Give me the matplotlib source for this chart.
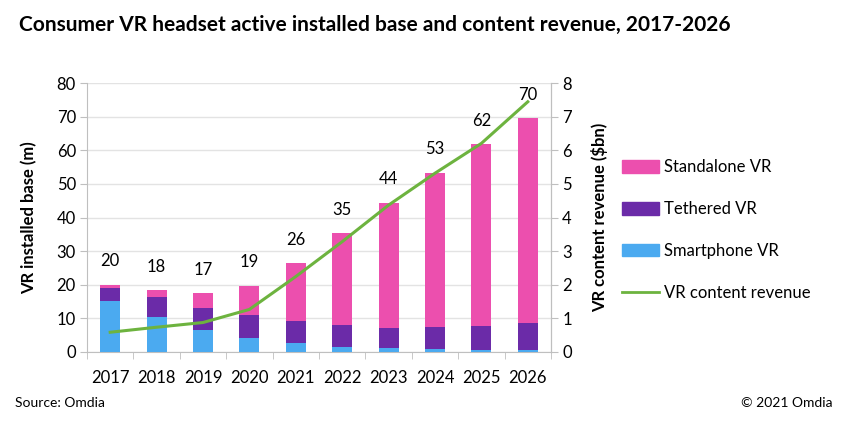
import matplotlib.pyplot as plt
import numpy as np
from matplotlib.patches import Patch
from matplotlib.lines import Line2D

plt.rcParams['font.family'] = ['Lato', 'DejaVu Sans']

# data
years = ['2017', '2018', '2019', '2020', '2021', '2022', '2023', '2024', '2025', '2026']
smartphone = [15.1, 10.4, 6.5, 4.0, 2.5, 1.5, 1.0, 0.7, 0.6, 0.4]
tethered = [4.0, 5.9, 6.5, 6.9, 6.6, 6.5, 6.2, 6.8, 7.1, 8.1]
standalone = [0.8, 2.0, 4.4, 8.7, 17.2, 27.3, 37.2, 45.9, 54.1, 61.1]
totals = [20, 18, 17, 19, 26, 35, 44, 53, 62, 70]
revenue = [0.58, 0.73, 0.87, 1.26, 2.24, 3.28, 4.37, 5.32, 6.21, 7.45]

c_blue = '#4BAAF0'
c_purple = '#6B2BA8'
c_pink = '#EC4FAE'
c_green = '#6DB33F'
grey = '#BFBFBF'

fig = plt.figure(figsize=(8.43, 4.24), dpi=100)
ax = fig.add_axes([0.1032, 0.1705, 0.5504, 0.633])

x = np.arange(len(years))
w = 0.43
ax.bar(x, smartphone, w, color=c_blue, zorder=3)
ax.bar(x, tethered, w, bottom=smartphone, color=c_purple, zorder=3)
bottom2 = np.array(smartphone) + np.array(tethered)
ax.bar(x, standalone, w, bottom=bottom2, color=c_pink, zorder=3)

# total labels above the bars
tops = bottom2 + np.array(standalone)
for xi, top, t in zip(x, tops, totals):
    ax.annotate(str(t), (xi, top), xytext=(0, 17), textcoords='offset points',
                ha='center', va='center', fontsize=12, color='black')

ax.set_xlim(-0.5, len(years) - 0.5)
ax.set_ylim(0, 80)
ax.set_yticks(range(0, 81, 10))
ax.grid(axis='y', color='#E3E3E3', linewidth=1, zorder=0)
ax.set_xticks(x)
ax.set_xticklabels(years, fontsize=12)
ax.set_xticks(np.arange(-0.5, len(years), 1), minor=True)
ax.tick_params(axis='x', which='major', length=0, pad=13)
ax.tick_params(axis='x', which='minor', length=5, color=grey)
ax.tick_params(axis='y', labelsize=12, length=5, color=grey, pad=3)
ax.spines['top'].set_visible(False)
for s in ['left', 'bottom', 'right']:
    ax.spines[s].set_color(grey)
ax.set_ylabel('VR installed base (m)', fontsize=12, fontweight='bold', labelpad=14)

ax2 = ax.twinx()
ax2.plot(x, revenue, color=c_green, linewidth=2.2, zorder=4)
ax2.set_ylim(0, 8)
ax2.set_yticks(range(0, 9))
ax2.tick_params(axis='y', labelsize=12, length=5, color=grey, pad=3)
for s in ['top', 'left', 'bottom']:
    ax2.spines[s].set_visible(False)
ax2.spines['right'].set_color(grey)
ax2.set_ylabel('VR content revenue ($bn)', fontsize=12, fontweight='bold', labelpad=14)

handles = [Patch(color=c_pink), Patch(color=c_purple), Patch(color=c_blue),
           Line2D([0], [0], color=c_green, linewidth=2)]
labels = ['Standalone VR', 'Tethered VR', 'Smartphone VR', 'VR content revenue']
fig.legend(handles, labels, loc='upper left', bbox_to_anchor=(0.72, 0.66),
           frameon=False, fontsize=12, labelspacing=1.55, handlelength=2.2,
           handleheight=0.8, handletextpad=0.35)

fig.text(0.023, 0.94, 'Consumer VR headset active installed base and content revenue, 2017-2026',
         fontsize=15, fontweight='bold', va='center', ha='left')
fig.text(0.018, 0.05, 'Source: Omdia', fontsize=10, va='center', ha='left')
fig.text(0.988, 0.05, '\u00a9 2021 Omdia', fontsize=10, va='center', ha='right')

fig.savefig('out.png', dpi=100)
